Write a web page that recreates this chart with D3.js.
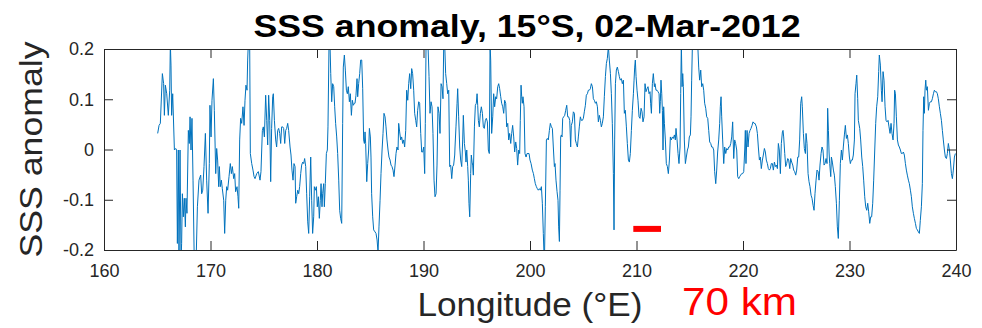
<!DOCTYPE html>
<html>
<head>
<meta charset="utf-8">
<script src="https://cdn.jsdelivr.net/npm/d3@7"></script>
<style>
  html, body { margin: 0; padding: 0; background: #fff; }
  svg { display: block; font-family: "Liberation Sans", Arial, Helvetica, sans-serif; }
</style>
</head>
<body>
<svg id="chart" width="982" height="328"></svg>
<script>
// Along-track SSS anomaly profile, [longitude (°E), anomaly] pairs, grouped by longitude band
const band165 = [
  [165.04,0.032],[165.17,0.048],[165.29,0.052],[165.48,0.151],[165.60,0.131],[165.67,0.068],[165.76,0.128],[165.89,0.111],
  [166.04,0.068],[166.17,0.118],[166.23,0.21],[166.29,0.168],[166.35,0.068],[166.45,0.111],[166.61,-0.001],[166.73,0.002],
  [166.82,-0.001],[166.89,-0.187],[166.98,-0.001],[167.04,-0.22],[167.14,-0.001],[167.23,-0.22],[167.29,-0.187],[167.36,-0.088],
  [167.45,-0.134],[167.54,-0.097],[167.64,-0.154],[167.70,-0.097],[167.79,-0.127],[167.92,0.038],[168.01,0.012],[168.08,0.065],
  [168.17,-0.001],[168.26,0.062],[168.36,-0.061],[168.48,-0.23],[168.64,-0.23],[168.77,-0.114],[168.92,-0.061],[169.08,-0.051],
  [169.17,-0.088],[169.27,-0.081],[169.39,-0.034],[169.52,0.032],[169.64,-0.061],[169.77,-0.127],[169.89,-0.028],[169.95,0.088],
  [170.05,0.025],[170.14,0.098],[170.27,0.141],[170.36,0.078],[170.49,-0.048],[170.58,0.002],[170.67,-0.021],[170.77,-0.074],
  [170.83,-0.034],[170.92,-0.074],[171.02,-0.061],[171.11,-0.078],[171.24,-0.101],[171.33,-0.167],[171.43,-0.101],[171.52,-0.074],
  [171.61,-0.081],[171.74,-0.054],[171.86,-0.028],[171.96,-0.048],[172.05,-0.034],[172.18,-0.058],[172.27,-0.048],[172.36,-0.084],
  [172.49,-0.074],[172.58,-0.094],[172.65,-0.117],[172.74,0.019],[172.83,0.062],[172.93,0.052],[173.05,0.085],[173.15,0.048],
  [173.24,0.098],[173.33,0.128],[173.43,0.118],[173.49,0.178],[173.55,0.21],[173.68,0.21],[173.74,-0.008],[173.87,-0.028],
  [173.99,-0.041],[174.09,-0.054]
];
const band174 = [
  [174.18,-0.058],[174.34,-0.048],[174.49,-0.044],[174.65,-0.061],[174.74,-0.044],[174.87,0.038],[174.96,0.045],[175.06,0.025],
  [175.18,0.108],[175.28,0.058],[175.37,0.009],[175.46,0.108],[175.56,0.058],[175.65,-0.064],[175.74,0.042],[175.84,0.105],
  [175.90,0.111],[176.00,0.058],[176.12,0.019],[176.21,0.005],[176.31,0.038],[176.40,0.042],[176.50,0.032],[176.59,0.012],
  [176.68,0.045],[176.78,0.045],[176.87,0.042],[176.97,0.012],[177.06,0.038],[177.15,0.042],[177.25,0.052],[177.34,0.038],
  [177.47,0.005],[177.56,-0.011],[177.65,-0.041],[177.75,-0.061],[177.84,-0.028],[177.94,-0.034],[178.00,-0.107],[178.09,-0.094],
  [178.19,-0.081],[178.28,-0.088],[178.37,-0.074],[178.47,-0.048],[178.56,-0.031],[178.66,-0.025],[178.75,-0.028],[178.84,-0.018],
  [178.94,-0.034],[179.03,-0.088],[179.13,-0.144],[179.22,-0.167],[179.31,-0.094],[179.41,-0.015],[179.50,-0.101],[179.59,-0.167],
  [179.69,-0.134],[179.75,-0.074],[179.85,-0.081],[179.94,-0.074],[180.03,-0.114],[180.13,-0.094],[180.22,-0.137],[180.31,-0.101],
  [180.38,-0.068],[180.47,-0.114],[180.53,-0.088],[180.63,-0.068],[180.69,-0.114],[180.78,-0.068],[180.88,-0.008],[180.97,-0.001],
  [181.03,0.045],[181.13,0.21],[181.22,0.21],[181.29,0.151],[181.38,0.095],[181.47,0.131],[181.57,0.125],[181.66,0.085],
  [181.75,0.052],[181.85,0.025],[181.94,-0.008],[182.04,-0.061],[182.13,-0.121],[182.22,-0.137],[182.32,-0.147],[182.41,0.052],
  [182.47,0.164],[182.57,0.188],[182.66,0.158],[182.76,0.118],[182.85,0.111],[182.94,0.125],[183.04,0.095],[183.13,0.111],
  [183.23,0.068],[183.32,0.098],[183.41,0.088],[183.51,0.092]
];
const band184 = [
  [183.57,0.092],[183.66,0.108],[183.76,0.141],[183.82,0.105],[183.91,0.131],[184.01,0.151],[184.10,0.178],[184.20,0.178],
  [184.29,0.121],[184.38,0.019],[184.45,0.012],[184.51,0.035],[184.57,0.012],[184.67,-0.064],[184.76,-0.028],[184.85,-0.001],
  [184.92,0.042],[185.01,0.025],[185.07,-0.015],[185.13,-0.088],[185.23,-0.134],[185.32,-0.160],[185.45,-0.164],[185.54,-0.167],
  [185.64,-0.180],[185.73,-0.204],[185.82,-0.154],[185.92,-0.101],[186.01,-0.048],[186.11,-0.001],[186.20,0.032],[186.29,0.072],
  [186.39,0.065],[186.48,0.045],[186.57,0.019],[186.67,-0.001],[186.76,-0.015],[186.86,-0.021],[186.95,-0.031],[187.04,-0.034],
  [187.14,-0.041],[187.23,-0.054],[187.33,-0.031],[187.42,-0.008],[187.51,0.005],[187.61,-0.001],[187.67,0.052],[187.76,0.035],
  [187.86,0.019],[187.95,0.025],[188.05,0.012],[188.14,0.019],[188.23,0.005],[188.33,0.038],[188.42,0.118],[188.52,0.098],
  [188.61,0.131],[188.70,0.151],[188.80,0.121],[188.89,0.161],[188.98,0.151],[189.08,0.118],[189.17,0.072],[189.27,0.058],
  [189.36,0.045],[189.45,0.078],[189.55,0.095],[189.64,0.092],[189.74,0.032],[189.83,-0.005],[189.92,-0.005],[190.02,0.005],
  [190.11,-0.048],[190.17,0.052],[190.24,0.21],[190.33,0.21],[190.42,0.21],[190.52,0.145],[190.61,0.072],[190.71,0.095],
  [190.80,0.085],[190.89,0.032],[190.99,-0.061],[191.08,-0.094],[191.18,-0.088],[191.27,-0.031],[191.36,0.085],[191.46,0.072],
  [191.55,0.032],[191.65,0.131],[191.74,0.125],[191.83,0.101],[191.90,0.21],[191.99,0.21],[192.08,0.151],[192.18,0.131],
  [192.27,0.111],[192.37,0.118],[192.46,-0.034],[192.55,-0.031],[192.65,-0.058],[192.74,-0.034],[192.83,-0.031],[192.93,-0.011]
];
const band193 = [
  [192.96,0.005],[193.05,0.045],[193.15,0.092],[193.21,0.121],[193.30,0.065],[193.40,0.005],[193.49,-0.021],[193.59,-0.034],
  [193.68,0.019],[193.74,0.068],[193.84,0.012],[193.93,-0.005],[193.99,-0.025],[194.06,-0.001],[194.15,-0.034],[194.21,-0.061],
  [194.27,-0.107],[194.34,-0.134],[194.43,-0.048],[194.49,-0.011],[194.56,-0.025],[194.62,-0.031],[194.68,-0.051],[194.78,0.045],
  [194.87,0.088],[194.96,0.092],[195.03,0.111],[195.09,0.088],[195.15,0.058],[195.24,0.045],[195.34,0.072],[195.43,0.085],
  [195.53,0.072],[195.62,0.045],[195.71,0.042],[195.81,0.058],[195.90,0.062],[196.00,0.055],[196.09,-0.001],[196.18,-0.008],
  [196.25,0.21],[196.31,0.178],[196.40,0.032],[196.50,0.065],[196.59,0.111],[196.68,0.085],[196.78,0.105],[196.87,0.101],
  [196.97,0.125],[197.06,0.131],[197.15,0.121],[197.25,0.105],[197.34,0.092],[197.44,0.085],[197.53,0.072],[197.62,0.098],
  [197.72,0.092],[197.81,0.045],[197.91,0.052],[198.00,0.019],[198.09,0.032],[198.19,0.012],[198.28,0.032],[198.37,0.048],
  [198.47,0.025],[198.56,-0.005],[198.66,0.015],[198.75,0.002],[198.84,-0.031],[198.94,-0.001],[199.03,-0.008],[199.09,0.058],
  [199.16,0.128],[199.22,0.105],[199.28,0.092],[199.34,0.105],[199.44,0.085],[199.53,-0.008],[199.63,-0.015],[199.72,-0.008],
  [199.81,-0.008],[199.91,-0.008],[200.00,-0.021],[200.10,-0.028],[200.22,-0.041],[200.32,-0.048],[200.41,-0.058],[200.50,-0.068],
  [200.60,-0.074],[200.69,-0.078],[200.78,-0.081],[200.88,-0.078],[200.97,-0.081],[201.07,-0.074],[201.16,-0.107],[201.25,-0.167],
  [201.35,-0.23],[201.44,-0.114],[201.54,0.019],[201.63,0.022],[201.72,0.019],[201.82,0.038],[201.91,0.052],[202.01,0.045],
  [202.10,0.042],[202.19,0.005],[202.29,-0.034]
];
const band202 = [
  [202.35,-0.028],[202.44,-0.061],[202.54,-0.084],[202.63,-0.101],[202.69,-0.154],[202.76,-0.183],[202.82,-0.081],[202.88,0.025],
  [202.94,0.029],[203.01,0.025],[203.07,0.062],[203.16,0.065],[203.26,0.068],[203.35,0.078],[203.45,0.088],[203.54,0.065],
  [203.63,0.065],[203.73,0.058],[203.82,0.005],[203.88,0.048],[203.98,0.055],[204.07,0.075],[204.17,0.072],[204.26,0.019],
  [204.35,0.012],[204.45,0.005],[204.54,0.025],[204.63,0.045],[204.73,0.065],[204.82,0.058],[204.92,0.058],[205.01,0.062],
  [205.10,0.075],[205.20,0.088],[205.29,0.108],[205.39,0.111],[205.48,0.118],[205.57,0.118],[205.67,0.121],[205.76,0.131],
  [205.86,0.125],[205.95,0.101],[206.04,0.098],[206.14,0.092],[206.23,0.095],[206.33,0.085],[206.42,0.055],[206.51,0.068],
  [206.61,0.058],[206.70,0.045],[206.79,0.052],[206.89,0.065],[206.98,0.105],[207.08,0.145],[207.17,0.171],[207.26,0.181],
  [207.36,0.205],[207.45,0.178],[207.55,0.151],[207.64,0.111],[207.73,0.052],[207.83,-0.048],[207.89,-0.160],[207.95,0.019],
  [208.02,0.131],[208.11,0.158],[208.20,0.164],[208.30,0.155],[208.39,0.145],[208.48,0.138],[208.58,0.141],[208.67,0.131],
  [208.77,0.138],[208.86,0.072],[208.95,0.078],[209.05,0.045],[209.14,0.012],[209.24,-0.021],[209.33,-0.025],[209.42,-0.008],
  [209.52,0.038],[209.61,0.078],[209.71,0.111],[209.77,0.138],[209.83,0.164],[209.89,0.178],[209.96,0.145],[210.05,0.118],
  [210.14,0.098],[210.24,0.065],[210.33,0.062],[210.43,0.082],[210.52,0.075],[210.61,0.055],[210.71,0.065],[210.80,0.131],
  [210.89,0.115],[210.99,0.121],[211.08,0.125],[211.18,0.111],[211.27,0.115],[211.33,0.092],[211.40,0.072],[211.49,0.131],
  [211.58,0.151],[211.68,0.125]
];
const band212 = [
  [211.74,0.131],[211.83,0.118],[211.93,0.118],[212.02,0.115],[212.12,0.111],[212.18,0.072],[212.24,0.095],[212.30,0.138],
  [212.37,0.111],[212.43,0.078],[212.49,-0.001],[212.55,0.085],[212.62,0.052],[212.71,0.019],[212.80,-0.028],[212.90,-0.034],
  [212.99,-0.048],[213.09,-0.021],[213.18,0.025],[213.27,0.019],[213.37,0.025],[213.46,0.022],[213.56,0.029],[213.65,0.019],
  [213.71,0.042],[213.81,0.019],[213.90,-0.008],[213.99,-0.028],[214.09,0.005],[214.15,0.111],[214.21,0.21],[214.28,0.125],
  [214.34,0.151],[214.40,0.125],[214.49,0.019],[214.59,-0.028],[214.68,-0.015],[214.78,-0.001],[214.87,0.005],[214.96,0.025],
  [215.06,0.029],[215.12,0.065],[215.18,0.138],[215.25,0.21],[215.37,0.22],[215.50,0.21],[215.62,0.22],[215.75,0.21],
  [215.84,0.164],[215.93,0.138],[216.03,0.158],[216.12,0.125],[216.22,0.131],[216.31,0.118],[216.40,0.092],[216.50,0.082],
  [216.59,0.065],[216.69,0.062],[216.78,0.038],[216.87,0.015],[216.97,0.012],[217.06,0.005],[217.15,0.005],[217.25,-0.001],
  [217.34,-0.044],[217.44,-0.068],[217.53,-0.041],[217.62,-0.005],[217.72,0.019],[217.81,0.052],[217.87,0.085],[217.94,0.105],
  [218.00,0.065],[218.09,0.019],[218.19,-0.028],[218.28,0.005],[218.38,-0.008],[218.47,0.002],[218.56,-0.001],[218.66,0.005],
  [218.75,0.005],[218.85,0.012],[218.94,0.025],[219.03,0.055],[219.13,-0.018],[219.22,0.019],[219.31,0.012],[219.41,-0.001],
  [219.50,-0.054],[219.60,-0.058],[219.69,-0.054],[219.78,-0.051],[219.88,-0.048],[219.97,-0.048],[220.07,-0.044],[220.16,-0.001],
  [220.22,0.038],[220.28,-0.028],[220.38,0.038],[220.47,0.005],[220.57,0.032],[220.66,0.038],[220.75,0.042],[220.85,0.048],
  [220.94,0.055],[221.04,0.052]
];
const band221 = [
  [221.13,0.052],[221.26,0.045],[221.35,0.032],[221.44,0.005],[221.54,-0.021],[221.63,-0.015],[221.72,-0.038],[221.82,-0.021],
  [221.91,-0.011],[222.01,0.002],[222.10,-0.005],[222.19,-0.021],[222.29,-0.028],[222.38,-0.038],[222.48,-0.041],[222.57,-0.038],
  [222.66,-0.028],[222.76,-0.028],[222.85,-0.041],[222.95,-0.025],[223.04,-0.034],[223.13,-0.031],[223.23,-0.038],[223.32,0.012],
  [223.41,-0.001],[223.51,-0.048],[223.60,0.012],[223.70,0.035],[223.76,0.038],[223.82,0.025],[223.92,-0.008],[224.01,-0.034],
  [224.10,-0.028],[224.20,-0.018],[224.29,-0.021],[224.39,-0.038],[224.48,-0.018],[224.57,-0.025],[224.67,-0.031],[224.76,-0.041],
  [224.85,-0.044],[224.95,-0.051],[225.04,-0.041],[225.14,-0.015],[225.23,-0.015],[225.32,0.019],[225.42,0.092],[225.51,0.105],
  [225.57,0.085],[225.67,0.032],[225.76,0.002],[225.86,-0.008],[225.92,0.032],[226.01,0.012],[226.11,-0.048],[226.20,-0.064],
  [226.29,-0.074],[226.39,-0.091],[226.48,-0.097],[226.58,-0.111],[226.67,-0.121],[226.76,-0.088],[226.86,-0.061],[226.95,-0.041],
  [227.05,-0.044],[227.14,-0.061],[227.23,-0.031],[227.33,-0.008],[227.42,0.005],[227.51,-0.001],[227.61,-0.031],[227.70,-0.028],
  [227.80,-0.018],[227.89,-0.028],[227.95,0.082],[228.02,0.038],[228.08,-0.005],[228.14,-0.028],[228.24,-0.054],[228.30,-0.015],
  [228.39,-0.025],[228.49,-0.041],[228.58,-0.051],[228.67,-0.074],[228.77,-0.107],[228.86,-0.154],[228.95,-0.177],[229.05,-0.101],
  [229.14,-0.028],[229.24,-0.001],[229.33,-0.021],[229.42,0.005],[229.52,0.029],[229.61,0.048],[229.71,0.022],[229.80,0.029],
  [229.89,0.012],[229.99,-0.015],[230.08,-0.028],[230.17,-0.021],[230.27,-0.021],[230.36,-0.011],[230.46,0.019]
];
const band231 = [
  [230.52,0.111],[230.61,0.131],[230.68,0.148],[230.77,0.101],[230.83,0.058],[230.96,0.042],[231.05,0.019],[231.15,-0.015],
  [231.24,-0.034],[231.33,-0.061],[231.43,-0.094],[231.52,-0.114],[231.62,-0.121],[231.71,-0.107],[231.80,-0.124],[231.90,-0.147],
  [231.99,-0.134],[232.08,-0.134],[232.18,-0.107],[232.27,-0.061],[232.37,-0.001],[232.46,0.052],[232.55,0.085],[232.65,0.105],
  [232.74,0.155],[232.80,0.188],[232.90,0.168],[232.99,0.118],[233.06,0.095],[233.15,0.155],[233.24,0.138],[233.34,0.085],
  [233.43,0.058],[233.52,0.055],[233.62,0.058],[233.71,0.045],[233.81,0.032],[233.90,0.052],[233.99,0.032],[234.09,0.019],
  [234.18,0.052],[234.24,0.118],[234.31,0.111],[234.40,0.065],[234.50,0.019],[234.59,0.009],[234.68,0.005],[234.78,-0.001],
  [234.87,-0.008],[234.96,-0.008],[235.06,-0.005],[235.15,-0.011],[235.25,-0.028],[235.34,-0.041],[235.43,-0.051],[235.53,-0.061],
  [235.62,-0.068],[235.72,-0.081],[235.81,-0.094],[235.90,-0.114],[236.00,-0.127],[236.09,-0.137],[236.19,-0.147],[236.28,-0.157],
  [236.37,-0.160],[236.47,-0.164],[236.56,-0.167],[236.65,-0.141],[236.75,-0.114],[236.84,-0.068],[236.90,0.038],[236.97,0.105],
  [237.03,0.072],[237.09,0.118],[237.16,0.138],[237.22,0.118],[237.31,0.125],[237.41,0.078],[237.50,0.092],[237.59,0.095],
  [237.69,0.095],[237.78,0.101],[237.88,0.111],[237.97,0.118],[238.06,0.115],[238.16,0.115],[238.25,0.111],[238.34,0.101],
  [238.44,0.085],[238.53,0.072],[238.63,0.058],[238.72,0.038],[238.81,0.019],[238.91,-0.001],[239.00,-0.015],[239.10,-0.018],
  [239.19,-0.008],[239.28,0.012],[239.38,-0.001],[239.47,-0.021],[239.57,-0.048],[239.66,-0.058],[239.75,-0.041],[239.85,-0.015],
  [239.94,-0.008]
];

const xTicks = [160, 170, 180, 190, 200, 210, 220, 230, 240];
const yTicks = [-0.2, -0.1, 0, 0.1, 0.2];
const yTickLabels = ["-0.2", "-0.1", "0", "0.1", "0.2"];

// Red reference bar (longitude span, anomaly level) and its caption
const scaleBarLon = [209.7, 212.3];
const scaleBarLevel = -0.158;
const scaleBarText = "70 km";

const titleText = "SSS anomaly, 15°S, 02-Mar-2012";
const xLabelText = "Longitude (°E)";
const yLabelText = "SSS anomaly";

const profile = [].concat(band165, band174, band184, band193, band202, band212, band221, band231);

const svg = d3.select("#chart");
const plot = { left: 104, right: 956, top: 49, bottom: 250 };
const axisColor = "#262626";

const x = d3.scaleLinear().domain([160, 240]).range([plot.left, plot.right]);
const y = d3.scaleLinear().domain([-0.2, 0.2]).range([plot.bottom, plot.top]);

svg.append("defs").append("clipPath").attr("id", "plotClip")
  .append("rect")
  .attr("x", plot.left).attr("y", plot.top)
  .attr("width", plot.right - plot.left).attr("height", plot.bottom - plot.top);

// Profile line
svg.append("path")
  .datum(profile)
  .attr("clip-path", "url(#plotClip)")
  .attr("fill", "none")
  .attr("stroke", "#0072BD")
  .attr("stroke-width", 1)
  .attr("stroke-linejoin", "round")
  .attr("d", d3.line().x(d => x(d[0])).y(d => y(d[1])));

// Red bar
svg.append("line")
  .attr("x1", x(scaleBarLon[0])).attr("x2", x(scaleBarLon[1]))
  .attr("y1", y(scaleBarLevel)).attr("y2", y(scaleBarLevel))
  .attr("stroke", "#ff0000").attr("stroke-width", 6);

// Axes with inward ticks on all four sides
const tickFont = 18;
function styleAxis(g) {
  g.selectAll(".domain").attr("stroke", axisColor).attr("stroke-width", 1);
  g.selectAll(".tick line").attr("stroke", axisColor).attr("stroke-width", 1);
  g.selectAll(".tick text").attr("fill", axisColor).style("font-size", tickFont + "px")
    .style("font-family", '"Liberation Sans", Arial, Helvetica, sans-serif');
}

svg.append("g")
  .attr("transform", `translate(0,${plot.bottom})`)
  .call(d3.axisBottom(x).tickValues(xTicks).tickFormat(d3.format("d"))
    .tickSizeInner(-9).tickSizeOuter(0).tickPadding(14))
  .call(styleAxis);

svg.append("g")
  .attr("transform", `translate(0,${plot.top})`)
  .call(d3.axisTop(x).tickValues(xTicks).tickFormat("")
    .tickSizeInner(-9).tickSizeOuter(0))
  .call(styleAxis);

svg.append("g")
  .attr("transform", `translate(${plot.left},0)`)
  .call(d3.axisLeft(y).tickValues(yTicks).tickFormat((d, i) => yTickLabels[i])
    .tickSizeInner(-9).tickSizeOuter(0).tickPadding(10))
  .call(styleAxis);

svg.append("g")
  .attr("transform", `translate(${plot.right},0)`)
  .call(d3.axisRight(y).tickValues(yTicks).tickFormat("")
    .tickSizeInner(-9).tickSizeOuter(0))
  .call(styleAxis);

svg.selectAll("g").attr("font-family", null).attr("font-size", null);

// Title and axis labels
svg.append("text")
  .attr("x", (plot.left + plot.right) / 2 - 3).attr("y", 37)
  .attr("text-anchor", "middle")
  .attr("textLength", 547).attr("lengthAdjust", "spacingAndGlyphs")
  .style("font-size", "32px").style("font-weight", "bold").attr("fill", "#000")
  .text(titleText);

svg.append("text")
  .attr("x", (plot.left + plot.right) / 2).attr("y", 316)
  .attr("text-anchor", "middle")
  .attr("textLength", 225).attr("lengthAdjust", "spacingAndGlyphs")
  .style("font-size", "34px").attr("fill", axisColor)
  .text(xLabelText);

svg.append("text")
  .attr("transform", `translate(42,${(plot.top + plot.bottom) / 2}) rotate(-90)`)
  .attr("text-anchor", "middle")
  .attr("textLength", 216).attr("lengthAdjust", "spacingAndGlyphs")
  .style("font-size", "31px").attr("fill", axisColor)
  .text(yLabelText);

svg.append("text")
  .attr("x", 682).attr("y", 315)
  .style("font-size", "39px").attr("fill", "#ff0000")
  .attr("textLength", 115).attr("lengthAdjust", "spacingAndGlyphs")
  .text(scaleBarText);
</script>
</body>
</html>
